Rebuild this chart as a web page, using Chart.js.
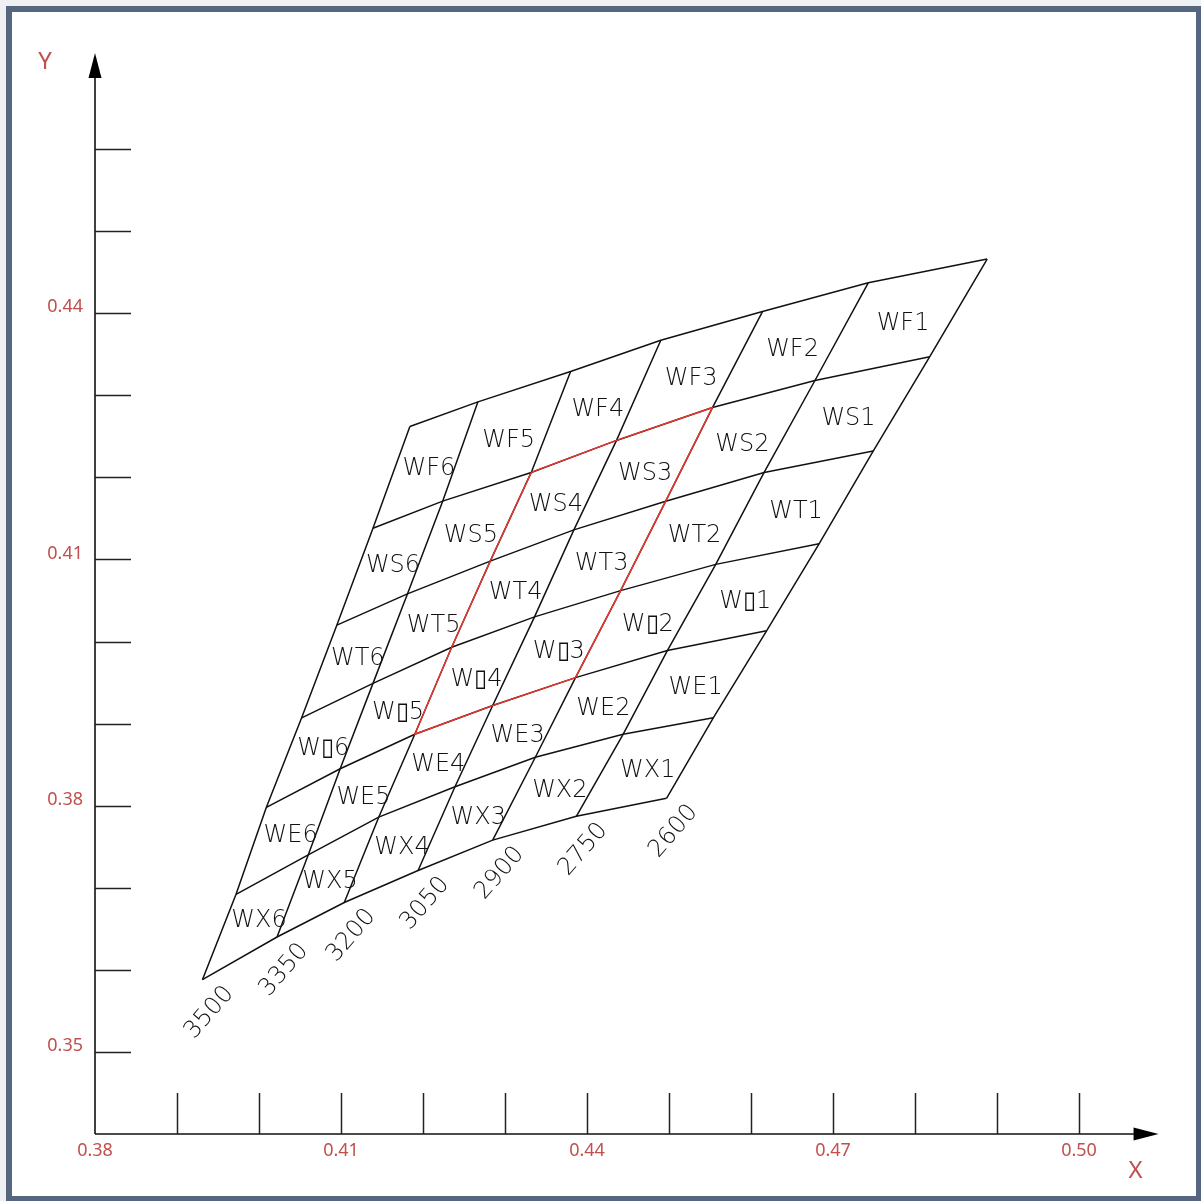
<!DOCTYPE html>
<html lang="en">
<head>
	<meta charset="UTF-8">
	<title>Bin chart</title>
	<style>
		html, body { margin: 0; padding: 0; background: #eef0f3; }
		#frame { position: absolute; left: 6px; top: 6px; width: 1184px; height: 1184px; border: 6px solid #56667f; background: #fff; }
		#wrap { position: absolute; left: 0; top: 0; width: 1201px; height: 1201px; }
	</style>
</head>
<body>
	<div id="frame"></div>
	<div id="wrap"><canvas id="chart"></canvas></div>

	<script src="https://cdn.jsdelivr.net/npm/chart.js@4.4.1/dist/chart.umd.min.js"></script>
	<script>
		// CCT lines, left to right
		const cctLabels = ['3500', '3350', '3200', '3050', '2900', '2750', '2600'];
		// bin rows, top to bottom
		const rowCodes = ['F', 'S', 'T', '\u25AF', 'E', 'X'];

		// nodes along each CCT line, from the top row down to the bottom row
		const x3500 = [0.4184, 0.4139, 0.4095, 0.4052, 0.4009, 0.3972, 0.3931];
		const y3500 = [0.4262, 0.4138, 0.4020, 0.3907, 0.3798, 0.3692, 0.3588];
		const x3350 = [0.4267, 0.4224, 0.4181, 0.4139, 0.4099, 0.4060, 0.4022];
		const y3350 = [0.4292, 0.4171, 0.4058, 0.3949, 0.3845, 0.3740, 0.3640];
		const x3200 = [0.4380, 0.4332, 0.4282, 0.4235, 0.4190, 0.4146, 0.4104];
		const y3200 = [0.4329, 0.4206, 0.4098, 0.3993, 0.3887, 0.3786, 0.3682];
		const x3050 = [0.4490, 0.4436, 0.4384, 0.4336, 0.4285, 0.4239, 0.4194];
		const y3050 = [0.4367, 0.4245, 0.4136, 0.4030, 0.3922, 0.3823, 0.3721];
		const x2900 = [0.4614, 0.4553, 0.4496, 0.4441, 0.4386, 0.4337, 0.4285];
		const y2900 = [0.4402, 0.4285, 0.4171, 0.4062, 0.3956, 0.3859, 0.3758];
		const x2750 = [0.4743, 0.4678, 0.4616, 0.4557, 0.4498, 0.4444, 0.4387];
		const y2750 = [0.4437, 0.4318, 0.4206, 0.4094, 0.3989, 0.3887, 0.3787];
		const x2600 = [0.4888, 0.4818, 0.4749, 0.4683, 0.4619, 0.4554, 0.4497];
		const y2600 = [0.4466, 0.4347, 0.4232, 0.4119, 0.4013, 0.3907, 0.3809];

		// highlighted block: CCT lines 3200..2900, row borders F/S..O/E
		const redCct = [2, 4];
		const redRows = [1, 4];

		const xTicks = [0.39, 0.40, 0.41, 0.42, 0.43, 0.44, 0.45, 0.46, 0.47, 0.48, 0.49, 0.50];
		const xTickLabels = [0.38, 0.41, 0.44, 0.47, 0.50];
		const yTicks = [0.35, 0.36, 0.37, 0.38, 0.39, 0.40, 0.41, 0.42, 0.43, 0.44, 0.45, 0.46];
		const yTickLabels = [0.35, 0.38, 0.41, 0.44];

		const xs = [x3500, x3350, x3200, x3050, x2900, x2750, x2600];
		const ys = [y3500, y3350, y3200, y3050, y2900, y2750, y2600];
		const node = (c, r) => ({ x: xs[c][r], y: ys[c][r] });

		const line = (data, color, width, order) => ({
			data: data,
			showLine: true,
			borderColor: color,
			borderWidth: width,
			pointRadius: 0,
			fill: false,
			tension: 0,
			order: order
		});

		const datasets = [];
		// red outline
		const red = [];
		for (let c = redCct[0]; c <= redCct[1]; c++) red.push(node(c, redRows[0]));
		for (let r = redRows[0] + 1; r <= redRows[1]; r++) red.push(node(redCct[1], r));
		for (let c = redCct[1] - 1; c >= redCct[0]; c--) red.push(node(c, redRows[1]));
		for (let r = redRows[1] - 1; r >= redRows[0]; r--) red.push(node(redCct[0], r));
		datasets.push(line(red, '#f2352b', 1.4, 0));
		// CCT lines
		xs.forEach((_, c) => datasets.push(line(xs[c].map((_, r) => node(c, r)), '#111', 1.5, 1)));
		// row borders
		x3500.forEach((_, r) => datasets.push(line(xs.map((_, c) => node(c, r)), '#111', 1.5, 1)));

		const CAD_FONT = '300 24px "DejaVu Sans"';
		const RED_TEXT = '#c0504d';

		const decorations = {
			id: 'decorations',
			beforeDatasetsDraw(chart) {
				const { ctx, scales: { x, y } } = chart;
				const x0 = x.getPixelForValue(0.38), y0 = y.getPixelForValue(0.34);
				const top = y.getPixelForValue(0.4717), right = x.getPixelForValue(0.5097);
				ctx.save();
				ctx.strokeStyle = '#111';
				ctx.fillStyle = '#000';
				ctx.lineWidth = 1.6;
				ctx.beginPath();
				ctx.moveTo(x0, y0); ctx.lineTo(x0, top + 20);
				ctx.moveTo(x0, y0); ctx.lineTo(right - 20, y0);
				ctx.stroke();
				// arrows
				ctx.beginPath();
				ctx.moveTo(x0, top); ctx.lineTo(x0 - 6.5, top + 25); ctx.lineTo(x0 + 6.5, top + 25);
				ctx.closePath(); ctx.fill();
				ctx.beginPath();
				ctx.moveTo(right, y0); ctx.lineTo(right - 25, y0 - 6.5); ctx.lineTo(right - 25, y0 + 6.5);
				ctx.closePath(); ctx.fill();
				// tick marks inside the plot
				ctx.lineWidth = 1.5;
				ctx.strokeStyle = '#222';
				ctx.beginPath();
				yTicks.forEach(v => {
					const py = Math.round(y.getPixelForValue(v)) + 0.5;
					ctx.moveTo(x0, py); ctx.lineTo(x0 + 36, py);
				});
				xTicks.forEach(v => {
					const px = Math.round(x.getPixelForValue(v)) + 0.5;
					ctx.moveTo(px, y0); ctx.lineTo(px, y0 - 41);
				});
				ctx.stroke();
				// tick labels
				ctx.fillStyle = RED_TEXT;
				ctx.font = '18px "Noto Sans"';
				ctx.textBaseline = 'middle';
				ctx.textAlign = 'right';
				yTickLabels.forEach(v => ctx.fillText(v.toFixed(2), x0 - 12, y.getPixelForValue(v) - 6));
				ctx.textAlign = 'center';
				xTickLabels.forEach(v => ctx.fillText(v.toFixed(2), x.getPixelForValue(v), y0 + 17));
				ctx.font = '24px "Noto Sans"';
				ctx.fillText('Y', x0 - 50, top + 9);
				ctx.fillText('X', right - 23, y0 + 37);
				ctx.restore();
			},
			afterDatasetsDraw(chart) {
				const { ctx, scales: { x, y } } = chart;
				const px = p => ({ x: x.getPixelForValue(p.x), y: y.getPixelForValue(p.y) });
				ctx.save();
				ctx.fillStyle = '#111';
				ctx.font = CAD_FONT;
				ctx.textAlign = 'center';
				ctx.textBaseline = 'middle';
				// bin names at cell centres
				for (let r = 0; r < rowCodes.length; r++) {
					for (let c = 0; c < cctLabels.length - 1; c++) {
						const pts = [node(c, r), node(c + 1, r), node(c + 1, r + 1), node(c, r + 1)].map(px);
						const cx = pts.reduce((s, p) => s + p.x, 0) / 4;
						const cy = pts.reduce((s, p) => s + p.y, 0) / 4;
						ctx.fillText('W' + rowCodes[r] + (cctLabels.length - 1 - c), cx + 3, cy + 4);
					}
				}
				// CCT names below the bottom row
				const last = x3500.length - 1;
				cctLabels.forEach((t, c) => {
					const p = px(node(c, last));
					ctx.save();
					ctx.translate(p.x + 7, p.y + 33);
					ctx.rotate(-49 * Math.PI / 180);
					ctx.fillText(t, 0, 0);
					ctx.restore();
				});
				ctx.restore();
			}
		};

		new Chart('chart', {
			type: 'scatter',
			data: { datasets: datasets },
			options: {
				responsive: true,
				maintainAspectRatio: false,
				animation: false,
				layout: { padding: { left: 95, right: 40, top: 53, bottom: 67 } },
				scales: {
					x: { type: 'linear', min: 0.38, max: 0.51, display: false },
					y: { type: 'linear', min: 0.34, max: 0.4717, display: false }
				},
				plugins: { legend: { display: false }, tooltip: { enabled: false } }
			},
			plugins: [decorations]
		});
	</script>
</body>
</html>
